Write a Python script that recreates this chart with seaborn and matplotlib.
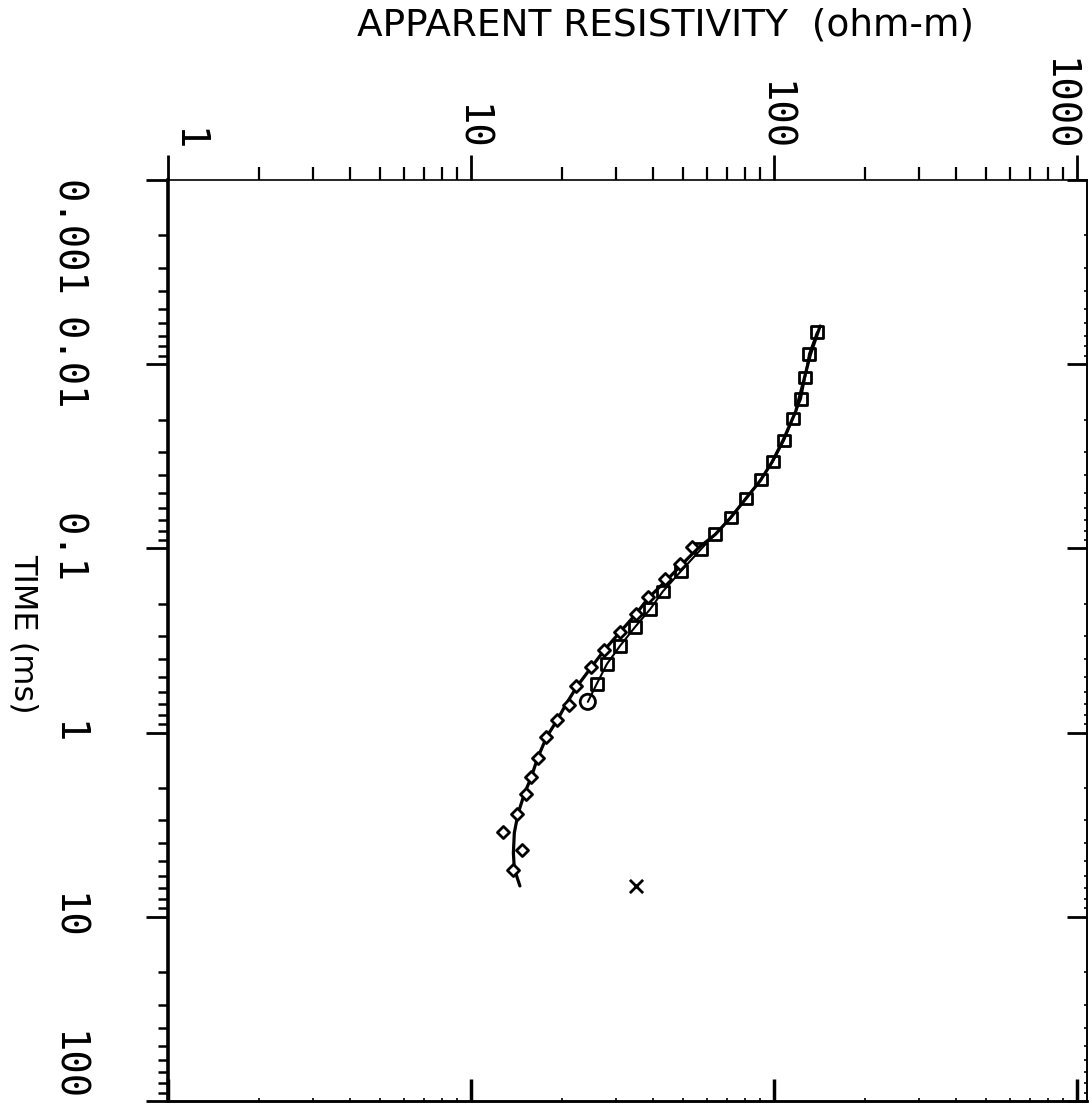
import matplotlib
matplotlib.use("Agg")
import matplotlib.pyplot as plt
import numpy as np
import pandas as pd
import seaborn as sns
from matplotlib.ticker import LogLocator, NullFormatter

# --- early-time sounding (squares), time in ms, apparent resistivity in ohm-m
sq_time = [0.0067, 0.0088, 0.0118, 0.0154, 0.0197, 0.0259, 0.0337, 0.0422,
           0.0535, 0.0678, 0.0838, 0.101, 0.133, 0.171, 0.214, 0.267,
           0.339, 0.424, 0.544]
sq_rho = [138.7, 130.5, 126.6, 122.8, 115.5, 107.9, 99.2, 90.6,
          80.8, 72.1, 63.9, 57.4, 49.3, 43.0, 39.0, 34.8,
          31.0, 28.1, 26.0]

# last early-time gate (circle)
end_time = [0.681]
end_rho = [24.3]

# --- late-time sounding (diamonds)
dm_time = [0.0985, 0.1218, 0.1469, 0.1838, 0.2272, 0.2844, 0.356, 0.440,
           0.558, 0.707, 0.852, 1.054, 1.369, 1.735, 2.146, 2.754,
           3.446, 4.313, 5.537]
dm_rho = [53.6, 48.9, 43.7, 38.4, 35.0, 31.0, 27.5, 24.9,
          22.2, 21.1, 19.2, 17.7, 16.6, 15.8, 15.2, 14.2,
          12.8, 14.7, 13.8]

# rejected point (x)
rej_time = [6.84]
rej_rho = [35.0]

# --- model response curve
fit_time = [0.0062, 0.0088, 0.0125, 0.018, 0.026, 0.034, 0.043, 0.054,
            0.068, 0.084, 0.10, 0.125, 0.15, 0.185, 0.23, 0.285, 0.355,
            0.44, 0.56, 0.70, 0.85, 1.05, 1.37, 1.75, 2.15, 2.75, 3.5,
            4.5, 5.5, 6.8]
fit_rho = [142, 132, 125, 118, 107, 98.5, 90, 80.5,
           72, 64, 56, 49, 44, 38.6, 34.8, 31, 27.6,
           25, 22.4, 20.6, 19.3, 17.8, 16.6, 15.8, 15.0, 14.3, 13.9,
           13.8, 13.9, 14.5]

rho_ticks = [1, 10, 100, 1000]
rho_labels = ["1", "10", "100", "1000"]
time_ticks = [0.001, 0.01, 0.1, 1, 10, 100]
time_labels = ["0.001", "0.01", "0.1", "1", "10", "100"]

sns.set_theme(style="white")
plt.rcParams["font.family"] = ["DejaVu Sans"]

W, H = 1089, 1104
PX = 72 / 100.0  # points per pixel at dpi 100
fig = plt.figure(figsize=(W / 100, H / 100), dpi=100)
fig.patch.set_facecolor("white")
ax = fig.add_axes([168 / W, 3 / H, 919 / W, 921 / H])
ax.set_facecolor("white")

ax.set_xscale("log")
ax.set_yscale("log")

sq = pd.DataFrame({"rho": sq_rho + end_rho, "t": sq_time + end_time})
fit = pd.DataFrame({"rho": fit_rho, "t": fit_time})

# model curve and the line joining the early-time gates
sns.lineplot(data=fit, x="rho", y="t", sort=False, estimator=None,
             color="black", linewidth=2.3, ax=ax)
sns.lineplot(data=sq, x="rho", y="t", sort=False, estimator=None,
             color="black", linewidth=1.5, ax=ax)

sns.scatterplot(x=sq_rho, y=sq_time, marker="s", s=70, facecolor="none",
                edgecolor="black", linewidth=2.0, ax=ax, zorder=4)
sns.scatterplot(x=dm_rho, y=dm_time, marker="D", s=38, facecolor="white",
                edgecolor="black", linewidth=2.0, ax=ax, zorder=5)
sns.scatterplot(x=end_rho, y=end_time, marker="o", s=120, facecolor="none",
                edgecolor="black", linewidth=2.0, ax=ax, zorder=4)
sns.scatterplot(x=rej_rho, y=rej_time, marker="x", s=90, color="black",
                linewidth=2.0, ax=ax, zorder=4)

ax.set_xlim(1, 1079)
ax.set_ylim(100, 0.001)

mono = "DejaVu Sans Mono"

# resistivity axis on top
ax.xaxis.set_ticks_position("top")
ax.xaxis.set_label_position("top")
ax.set_xticks(rho_ticks)
ax.set_xticklabels(rho_labels, rotation=-90, ha="center", va="bottom",
                   fontfamily=mono, fontsize=28)
ax.xaxis.set_minor_locator(LogLocator(base=10, subs=np.arange(2, 10)))
ax.xaxis.set_minor_formatter(NullFormatter())
ax.tick_params(axis="x", which="major", direction="out", length=25 * PX,
               width=2.0, pad=4 * PX, colors="black", top=True, bottom=False)
ax.tick_params(axis="x", which="minor", direction="out", length=13 * PX,
               width=1.6, colors="black", top=True, bottom=False)
xl = ax.get_xticklabels()
xl[0].set_ha("left")
xl[-1].set_ha("right")

# time axis on the left
ax.set_yticks(time_ticks)
ax.set_yticklabels(time_labels, rotation=-90, ha="center", va="center",
                   fontfamily=mono, fontsize=28)
ax.yaxis.set_minor_locator(LogLocator(base=10, subs=np.arange(2, 10)))
ax.yaxis.set_minor_formatter(NullFormatter())
ax.tick_params(axis="y", which="major", direction="out", length=22 * PX,
               width=2.0, pad=79 * PX, colors="black", left=True, right=False)
ax.tick_params(axis="y", which="minor", direction="out", length=10 * PX,
               width=1.8, colors="black", left=True, right=False)
yl = ax.get_yticklabels()
yl[0].set_va("top")
yl[-1].set_va("bottom")

ax.set_xlabel("APPARENT RESISTIVITY  (ohm-m)", fontsize=27,
              color="black", ha="center", va="center")
ax.xaxis.set_label_coords(0.541, 1.168)
ax.set_ylabel("TIME (ms)", fontsize=23, color="black", rotation=-90,
              ha="center", va="center", rotation_mode="default")
ax.yaxis.set_label_coords(-0.158, 0.507)

# inward ticks on the right and bottom edges
axr = ax.secondary_yaxis("right")
axr.set_yticks(time_ticks)
axr.yaxis.set_minor_locator(LogLocator(base=10, subs=np.arange(2, 10)))
axr.yaxis.set_minor_formatter(NullFormatter())
axr.tick_params(which="major", direction="in", length=20 * PX, width=2.0,
                labelright=False, colors="black")
axr.tick_params(which="minor", direction="in", length=3 * PX, width=1.2,
                colors="black")
axr.spines["right"].set_linewidth(1.2)
axr.spines["right"].set_color("black")

axb = ax.secondary_xaxis("bottom")
axb.set_xticks(rho_ticks)
axb.xaxis.set_minor_locator(LogLocator(base=10, subs=np.arange(2, 10)))
axb.xaxis.set_minor_formatter(NullFormatter())
axb.tick_params(which="major", direction="in", length=22 * PX, width=2.5,
                labelbottom=False, colors="black")
axb.tick_params(which="minor", direction="in", length=3 * PX, width=1.2,
                colors="black")
axb.spines["bottom"].set_linewidth(1.8)
axb.spines["bottom"].set_color("black")

for side, lw in {"left": 2.6, "top": 1.2, "right": 1.2, "bottom": 1.8}.items():
    ax.spines[side].set_visible(True)
    ax.spines[side].set_linewidth(lw)
    ax.spines[side].set_color("black")

fig.savefig("out.png", dpi=100, facecolor="white")
